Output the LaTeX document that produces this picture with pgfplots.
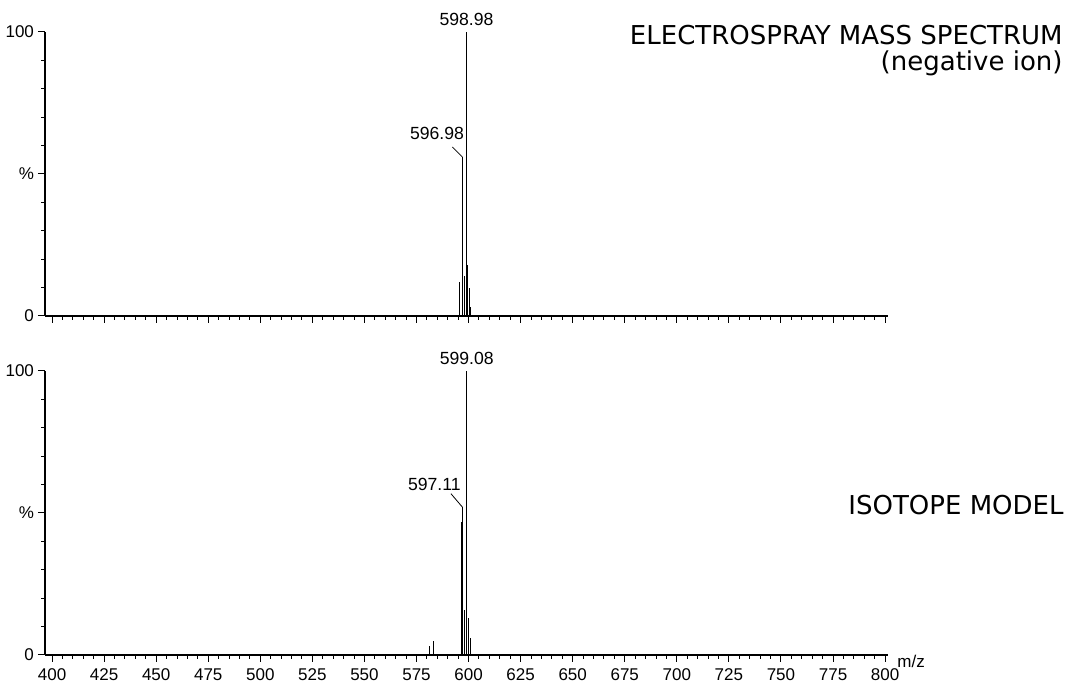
\documentclass[border=0pt]{standalone}
\usepackage{fontspec}
\setmainfont{Liberation Sans}
\newfontfamily\titlefont{DejaVu Sans}
\usepackage{pgfplots}
\pgfplotsset{compat=1.18}

% one style for both panels (1px of the scan = 0.5pt)
\pgfplotsset{
  msaxis/.style={
    scale only axis, width=421.5pt, height=142pt,
    xmin=396.6, xmax=801.4, ymin=0, ymax=100,
    axis lines=left, axis line style={-, line width=0.7pt},
    tick align=outside,
    xtick={400,425,...,800}, minor x tick num=4,
    ytick={0,50,100}, yticklabels={0,\%,100}, minor y tick num=4,
    major tick length=3.5pt, minor tick length=1.8pt,
    tick style={black, line width=0.5pt},
    tick label style={font=\fontsize{8.5}{10}\selectfont},
    yticklabel style={xshift=1.5pt},
    /pgf/number format/assume math mode=true,
    /pgf/number format/1000 sep={},
    clip=false,
  },
}
\tikzset{peak/.style={font=\fontsize{8.8}{10}\selectfont, inner sep=0pt}}

\begin{document}
\begin{tikzpicture}
\useasboundingbox (0,0) rectangle (539pt,342.5pt);

% electrospray spectrum
\begin{axis}[msaxis, at={(22.5pt,184.5pt)}, anchor=south west,
    xticklabels={}]
  \addplot[ycomb, black, line width=0.5pt] coordinates {
    (595.4,12) (596.98,56) (597.9,14) (598.98,100) (599.5,18)
    (600.2,10) (600.9,3)
  };
  \node[peak, anchor=base] at ([yshift=3pt]axis cs:598.98,100) {598.98};
  \draw[line width=0.4pt] (axis cs:596.98,56) -- ++(-5pt,5pt);
  \node[peak, anchor=base east] at ([xshift=1pt,yshift=8.5pt]axis cs:596.98,56) {596.98};
\end{axis}

% isotope model
\begin{axis}[msaxis, at={(22.5pt,15pt)}, anchor=south west]
  \addplot[ycomb, black, line width=0.5pt] coordinates {
    (581.3,3) (583.2,5) (596.6,47) (597.11,52) (598.1,16)
    (599.08,100) (600.1,13) (601.1,6)
  };
  \node[peak, anchor=base] at ([yshift=3pt]axis cs:599.08,100) {599.08};
  \draw[line width=0.4pt] (axis cs:597.11,52) -- ++(-5.8pt,6.8pt);
  \node[peak, anchor=base east] at ([xshift=-0.8pt,yshift=8.3pt]axis cs:597.11,52) {597.11};
  \node[anchor=west, font=\fontsize{8.5}{10}\selectfont, inner sep=0pt]
    at ([xshift=4.5pt,yshift=-3pt]axis cs:801.4,0) {m/z};
\end{axis}

\node[anchor=base east, inner sep=0pt, font=\titlefont\fontsize{13}{15}\selectfont]
  at (531.5pt,320pt) {ELECTROSPRAY MASS SPECTRUM};
\node[anchor=base east, inner sep=0pt, font=\titlefont\fontsize{13}{15}\selectfont]
  at (531.5pt,307pt) {(negative ion)};
\node[anchor=base east, inner sep=0pt, font=\titlefont\fontsize{13}{15}\selectfont]
  at (532pt,85pt) {ISOTOPE MODEL};
\end{tikzpicture}
\end{document}
